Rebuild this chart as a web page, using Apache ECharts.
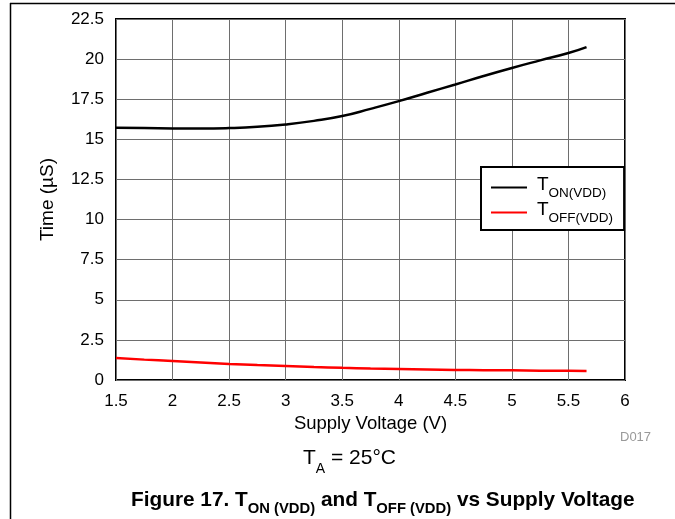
<!DOCTYPE html>
<html><head><meta charset="utf-8">
<script src="https://cdn.jsdelivr.net/npm/echarts@6/dist/echarts.min.js"></script>
<style>html,body{margin:0;padding:0;background:#fff}#c{width:675px;height:519px}</style>
</head><body><div id="c"></div>
<script>
var voltage = [1.5,1.75,2,2.25,2.5,2.75,3,3.25,3.5,3.75,4,4.25,4.5,4.75,5,5.25,5.5,5.66];
var tOn  = [15.72,15.70,15.68,15.67,15.70,15.78,15.93,16.15,16.45,16.90,17.38,17.90,18.42,18.95,19.45,19.92,20.38,20.75];
var tOff = [1.37,1.27,1.18,1.09,1.00,0.93,0.87,0.81,0.76,0.72,0.69,0.66,0.63,0.61,0.60,0.58,0.57,0.56];
var xTicks = [1.5,2,2.5,3,3.5,4,4.5,5,5.5,6];
var yTicks = [0,2.5,5,7.5,10,12.5,15,17.5,20,22.5];

var FONT = 'Liberation Sans, Arial, sans-serif';
function pairs(xs, ys){ return xs.map(function(x,i){return [x, ys[i]];}); }

var chart = echarts.init(document.getElementById('c'));
chart.setOption({
  animation:false,
  textStyle:{fontFamily:FONT},
  grid:{left:116, top:19, width:509, height:361, show:true, borderColor:'#000', borderWidth:2, backgroundColor:'transparent'},
  xAxis:{type:'value', min:xTicks[0], max:xTicks[xTicks.length-1], interval:0.5,
    axisLine:{show:false}, axisTick:{show:false},
    splitLine:{show:true, lineStyle:{color:'#6e6e6e', width:1}},
    axisLabel:{color:'#000', fontSize:17, margin:13, formatter:function(v){return String(v);}},
    name:'Supply Voltage (V)', nameLocation:'middle', nameGap:34, nameTextStyle:{color:'#000', fontSize:18.5}
  },
  yAxis:{type:'value', min:yTicks[0], max:yTicks[yTicks.length-1], interval:2.5,
    axisLine:{show:false}, axisTick:{show:false},
    splitLine:{show:true, lineStyle:{color:'#6e6e6e', width:1}},
    axisLabel:{color:'#000', fontSize:17, margin:12, formatter:function(v){return String(v);}},
    name:'Time (\u00b5S)', nameLocation:'middle', nameGap:59, nameTextStyle:{color:'#000', fontSize:19}
  },
  legend:{
    orient:'vertical', left:481, top:167, itemWidth:36, itemHeight:2, itemGap:0,
    padding:[8,11,5,10], backgroundColor:'#fff', borderColor:'#000', borderWidth:2,
    icon:'rect',
    data:['ON','OFF'],
    formatter:function(n){return '{t|T}{s|'+n+'(VDD)}';},
    textStyle:{color:'#000', fontFamily:FONT, rich:{
      t:{fontSize:19, color:'#000', fontFamily:FONT, lineHeight:25, verticalAlign:'top', padding:[0,0,0,5]},
      s:{fontSize:13.5, color:'#000', fontFamily:FONT, lineHeight:25, verticalAlign:'bottom', padding:[11,0,0,0]}
    }}
  },
  series:[
    {name:'ON', type:'line', data:pairs(voltage,tOn), smooth:true, showSymbol:false, lineStyle:{color:'#000', width:2.5}, itemStyle:{color:'#000'}},
    {name:'OFF', type:'line', data:pairs(voltage,tOff), smooth:true, showSymbol:false, lineStyle:{color:'#ff0000', width:2.5}, itemStyle:{color:'#ff0000'}}
  ],
  graphic:[
    {type:'line', shape:{x1:10.5,y1:3,x2:10.5,y2:519}, style:{stroke:'#000', lineWidth:1.5}},
    {type:'line', shape:{x1:10,y1:3.5,x2:675,y2:3.5}, style:{stroke:'#000', lineWidth:1.5}},
    {type:'text', left:620, top:431, style:{text:'D017', fill:'#999', fontSize:13, fontFamily:FONT}},
    {type:'text', left:303, top:448, style:{text:'{t|T}{s|A}{t| = 25\u00b0C}', fontFamily:FONT, rich:{
      t:{fontSize:21, fill:'#000', fontFamily:FONT, lineHeight:28, verticalAlign:'top'},
      s:{fontSize:14, fill:'#000', fontFamily:FONT, lineHeight:28, verticalAlign:'bottom', padding:[12,0,0,0]}}}},
    {type:'text', left:131, top:489, style:{text:'{t|Figure 17. T}{s|ON (VDD)}{t| and T}{s|OFF (VDD)}{t| vs Supply Voltage}', fontFamily:FONT, rich:{
      t:{fontSize:20.8, fontWeight:'bold', fill:'#000', fontFamily:FONT, lineHeight:26, verticalAlign:'top'},
      s:{fontSize:14.8, fontWeight:'bold', fill:'#000', fontFamily:FONT, lineHeight:26, verticalAlign:'bottom', padding:[12,0,0,0]}}}}
  ]
});
</script></body></html>
